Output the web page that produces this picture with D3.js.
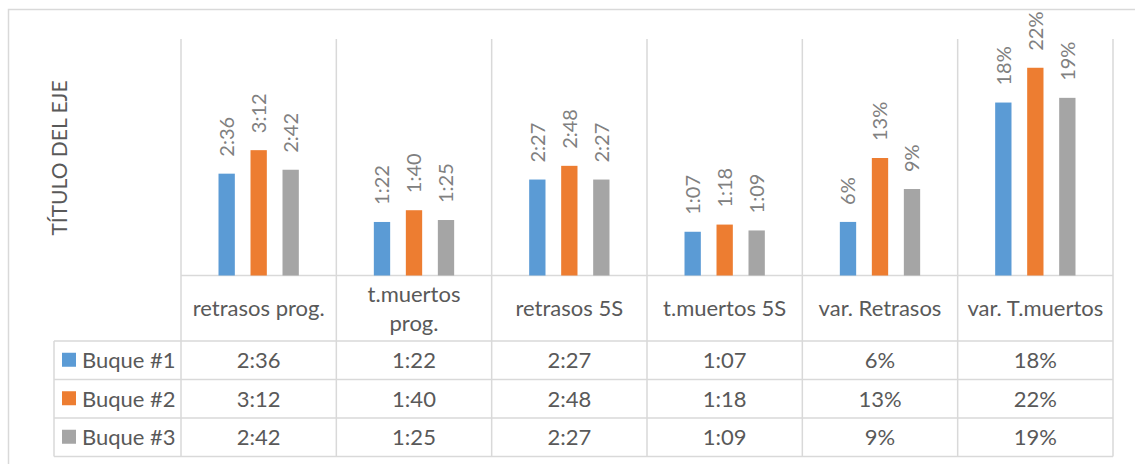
<!DOCTYPE html>
<html><head><meta charset="utf-8">
<script src="https://cdn.jsdelivr.net/npm/d3@7"></script>
<style>
html,body{margin:0;padding:0;background:#fff;}
svg{display:block;font-family:Lato,"Liberation Sans",sans-serif;}
</style></head>
<body>
<svg id="chart" width="1135" height="464"></svg>
<script>
// ---- data ----
const categories = ["retrasos prog.", "t.muertos prog.", "retrasos 5S", "t.muertos 5S", "var. Retrasos", "var. T.muertos"];
const seriesNames = ["Buque #1", "Buque #2", "Buque #3"];
// times as h:mm (fractions of a day), variations as fractions
const buque1 = ["2:36", "1:22", "2:27", "1:07", 0.057, 0.184];
const buque2 = ["3:12", "1:40", "2:48", "1:18", 0.125, 0.221];
const buque3 = ["2:42", "1:25", "2:27", "1:09", 0.092, 0.189];
const colors = ["#5B9BD5", "#ED7D31", "#A5A5A5"];
const axisTitle = "TÍTULO DEL EJE";
const yDomain = [0, 0.25];

(function () {
const seriesValues = [buque1, buque2, buque3];
const toNum = v => typeof v === "string" ? (() => { const [h, m] = v.split(":").map(Number); return (h * 60 + m) / 1440; })() : v;
const fmtPct = d3.format(".0%");
const toLabel = v => typeof v === "string" ? v : fmtPct(v);

const svg = d3.select("#chart");
const plotLeft = 181, plotRight = 1113, base = 275.5, plotTop = 40.5;
const tableLeft = 54;
const rowLines = [341, 379.5, 418, 456.5];
const tableFont = 22;

const x0 = d3.scaleBand().domain(categories).range([plotLeft, plotRight]);
const cw = x0.bandwidth();
const x1 = d3.scaleBand().domain(seriesNames).range([(cw - 96) / 2, (cw + 96) / 2]).paddingInner(0.49).paddingOuter(0.245);
const y = d3.scaleLinear().domain(yDomain).range([base, plotTop]);

const grid = "#D9D9D9";
// outer chart border
svg.append("rect").attr("x", 8.5).attr("y", 9.5).attr("width", 1135).attr("height", 470)
  .attr("fill", "none").attr("stroke", grid).attr("stroke-width", 1.5);

// vertical gridlines (category boundaries)
const bounds = categories.map(c => x0(c)).concat([plotRight]);
svg.append("g").selectAll("line").data(bounds).join("line")
  .attr("x1", d => d).attr("x2", d => d).attr("y1", 39).attr("y2", rowLines[3])
  .attr("stroke", grid).attr("stroke-width", 1.5);
// baseline
svg.append("line").attr("x1", plotLeft).attr("x2", plotRight).attr("y1", base).attr("y2", base)
  .attr("stroke", grid).attr("stroke-width", 1.5);
// table rows
svg.append("g").selectAll("line").data(rowLines).join("line")
  .attr("x1", tableLeft).attr("x2", plotRight).attr("y1", d => d).attr("y2", d => d)
  .attr("stroke", grid).attr("stroke-width", 1.5);
svg.append("line").attr("x1", tableLeft).attr("x2", tableLeft).attr("y1", rowLines[0]).attr("y2", rowLines[3])
  .attr("stroke", grid).attr("stroke-width", 1.5);

// bars
const flat = [];
seriesValues.forEach((vals, si) => vals.forEach((v, ci) => flat.push({ s: seriesNames[si], si, c: categories[ci], v: toNum(v), raw: v })));
const g = svg.append("g");
g.selectAll("rect").data(flat).join("rect")
  .attr("x", d => x0(d.c) + x1(d.s))
  .attr("width", x1.bandwidth())
  .attr("y", d => y(d.v))
  .attr("height", d => y(0) - y(d.v))
  .attr("fill", d => colors[d.si]);

// data labels (rotated)
g.selectAll("text").data(flat).join("text")
  .attr("transform", d => `translate(${x0(d.c) + x1(d.s) + x1.bandwidth() / 2},${y(d.v) - 17}) rotate(-90)`)
  .attr("dy", "0.36em")
  .attr("font-size", 20)
  .attr("fill", "#808080")
  .text(d => toLabel(d.raw));

// axis title
svg.append("text")
  .attr("transform", `translate(${59},${158}) rotate(-90)`)
  .attr("text-anchor", "middle").attr("dy", "0.36em")
  .attr("font-size", 21).attr("fill", "#595959")
  .text(axisTitle);

// category headers (with wrapping)
const headerCenter = 308.5;
categories.forEach(c => {
  const t = svg.append("text").attr("text-anchor", "middle").attr("font-size", tableFont).attr("fill", "#595959");
  const cx = x0(c) + cw / 2;
  t.text(c);
  if (t.node().getComputedTextLength() > cw * 0.92) {
    const words = c.split(" ");
    t.text(null);
    const lh = 29.5;
    words.forEach((w, i) => t.append("tspan").attr("x", cx).attr("y", headerCenter + (i - (words.length - 1) / 2) * lh).attr("dy", "0.36em").text(w));
  } else {
    t.attr("x", cx).attr("y", headerCenter).attr("dy", "0.36em");
  }
});

// table rows
seriesNames.forEach((s, si) => {
  const cy = (rowLines[si] + rowLines[si + 1]) / 2;
  svg.append("rect").attr("x", 62).attr("y", cy - 7.5).attr("width", 14).attr("height", 14).attr("fill", colors[si]);
  svg.append("text").attr("x", 82).attr("y", cy).attr("dy", "0.36em").attr("font-size", tableFont).attr("fill", "#595959").text(s);
  seriesValues[si].forEach((v, ci) => {
    svg.append("text").attr("x", x0(categories[ci]) + cw / 2).attr("y", cy).attr("dy", "0.36em")
      .attr("text-anchor", "middle").attr("font-size", tableFont).attr("fill", "#595959").text(toLabel(v));
  });
});
})();
</script>
</body></html>
